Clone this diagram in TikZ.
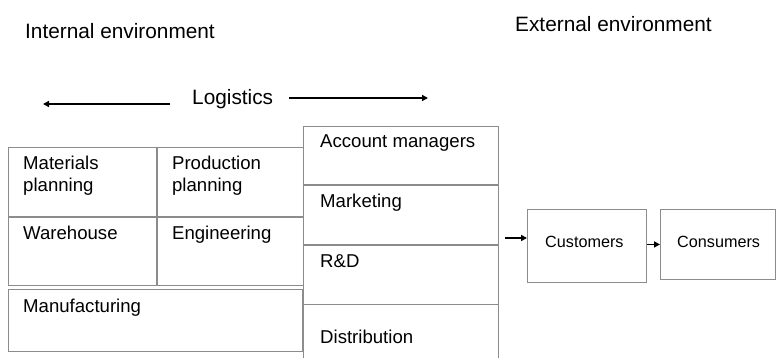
\documentclass[tikz,border=0pt]{standalone}
\usepackage{fontspec}
\setmainfont{Liberation Sans}
\usetikzlibrary{arrows.meta, positioning, calc}

\newcommand{\headfont}{\fontsize{20.8}{25}\selectfont}
\newcommand{\cellfont}{\fontsize{18.6}{22}\selectfont}
\newcommand{\custfont}{\fontsize{16.2}{19}\selectfont}

\begin{document}
\begin{tikzpicture}[
    x=1pt, y=-1pt,
    cell/.style={rectangle, draw=black!45, line width=0.9pt, inner sep=0pt, anchor=north west},
    lbl/.style={anchor=base west, inner sep=0pt, align=left, font=\cellfont},
    head/.style={anchor=base west, inner sep=0pt, font=\headfont},
    arrow/.style={-{Triangle[length=6pt, width=6pt]}, line width=1.5pt}
]
\useasboundingbox (0,0) rectangle (776,358);

% headings and the logistics arrows
\node[head] (int) at (25,39) {Internal environment};
\node[head] (ext) at (515,32) {External environment};
\node[head] (lg) at (192,105) {Logistics};
\coordinate (lgl) at (43,104);
\coordinate (lgr) at (428,98);
\draw[arrow] (lgl -| lg.west) ++(-22,0) -- (lgl);
\draw[arrow] (lgr -| lg.east) ++(16,0) -- (lgr);

% internal grid
\node[cell, minimum width=148pt, minimum height=69pt] (mp) at (8,147) {};
\node[cell, minimum width=146pt, minimum height=69pt, right=0pt of mp] (pp) {};
\node[cell, minimum width=148pt, minimum height=68pt, below=0pt of mp] (wh) {};
\node[cell, minimum width=146pt, minimum height=68pt, below=0pt of pp] (en) {};
\node[cell, minimum width=294pt, minimum height=62pt, below right=3pt and 0pt of wh.south west] (mf) {};

% two-line labels sit on their last baseline
\node[lbl] (mpt) at ($(mp.north west)+(15,45)$) {Materials\\planning};
\node[lbl] (ppt) at ($(pp.north west)+(15,45)$) {Production\\planning};
\node[lbl] (wht) at ($(wh.north west)+(15,23)$) {Warehouse};
\node[lbl] (ent) at ($(en.north west)+(15,23)$) {Engineering};
\node[lbl] (mft) at ($(mf.north west)+(15,24)$) {Manufacturing};

% column next to it, open at the bottom
\node[cell, minimum width=195pt, minimum height=58pt] (am) at (303,126) {};
\node[cell, minimum width=195pt, minimum height=59pt, below=0pt of am] (mk) {};
\node[cell, minimum width=195pt, minimum height=59pt, below=0pt of mk] (rd) {};
\node[cell, draw=none, minimum width=195pt, minimum height=56pt, below=0pt of rd] (di) {};
\draw[draw=black!45, line width=0.9pt] (di.north west) -- (di.south west) (di.north east) -- (di.south east);

\node[lbl] (amt) at ($(am.north west)+(17,22)$) {Account managers};
\node[lbl] (mkt) at ($(mk.north west)+(17,23)$) {Marketing};
\node[lbl] (rdt) at ($(rd.north west)+(17,23)$) {R\&D};
\node[lbl] (dit) at ($(di.north west)+(17,39)$) {Distribution};

% external side
\node[cell, minimum width=119pt, minimum height=73pt] (cu) at (527,209) {};
\node[cell, minimum width=115pt, minimum height=70pt] (co) at (660,209) {};
\node[lbl, font=\custfont] (cut) at ($(cu.north west)+(18,38)$) {Customers};
\node[lbl, font=\custfont] (cot) at ($(co.north west)+(17,38)$) {Consumers};
\coordinate (dep) at (505,238);
\draw[arrow] (dep) -- (dep -| cu.west);
\draw[arrow] (cu.east |- co) -- (co.west);
\end{tikzpicture}
\end{document}
